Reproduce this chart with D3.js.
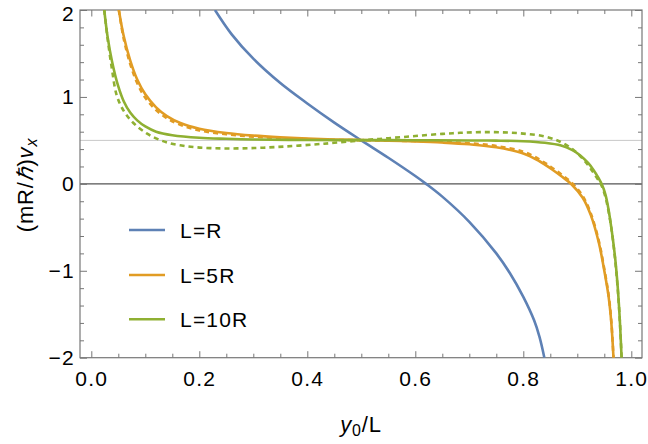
<!DOCTYPE html>
<html><head><meta charset="utf-8">
<script src="https://cdn.jsdelivr.net/npm/d3@7"></script>
<style>
body{margin:0;background:#fff}
svg text{font-family:"Liberation Sans",Arial,Helvetica,sans-serif}
</style></head><body>
<svg id="c" width="648" height="444"></svg>
<script>
// ---- data ----
const seriesNames = ["L=R", "L=5R", "L=10R"];
const seriesColors = ["#5E81B5", "#E19C24", "#8FB032"];

const blueX = [0.229, 0.26, 0.3, 0.35, 0.4, 0.45, 0.5, 0.55, 0.6, 0.62, 0.65, 0.7, 0.75, 0.775, 0.8, 0.82, 0.83, 0.839];
const blueY = [2.0, 1.72, 1.44, 1.16, 0.925, 0.705, 0.5, 0.30, 0.09, 0.0, -0.147, -0.437, -0.80, -1.025, -1.30, -1.57, -1.76, -2.0];

const orangeX = [0.051, 0.06, 0.072, 0.085, 0.1, 0.12, 0.14, 0.165, 0.2, 0.25, 0.3, 0.35, 0.4, 0.45, 0.5, 0.55, 0.6, 0.65, 0.7, 0.75, 0.8, 0.83, 0.85, 0.87, 0.89, 0.91, 0.925, 0.94, 0.95, 0.958, 0.963, 0.967];
const orangeY = [2.0, 1.7, 1.42, 1.2, 1.03, 0.88, 0.78, 0.70, 0.635, 0.585, 0.555, 0.535, 0.52, 0.51, 0.505, 0.497, 0.488, 0.475, 0.455, 0.42, 0.35, 0.26, 0.18, 0.09, -0.01, -0.16, -0.36, -0.68, -1.0, -1.3, -1.6, -2.0];
const orangeDotY = [2.0, 1.67, 1.38, 1.16, 0.99, 0.85, 0.755, 0.68, 0.615, 0.57, 0.543, 0.527, 0.514, 0.506, 0.502, 0.497, 0.492, 0.483, 0.467, 0.435, 0.37, 0.28, 0.2, 0.11, 0.01, -0.14, -0.34, -0.66, -0.98, -1.28, -1.58, -2.0];

const greenX = [0.024, 0.03, 0.038, 0.05, 0.06, 0.072, 0.085, 0.1, 0.12, 0.15, 0.2, 0.25, 0.3, 0.4, 0.5, 0.6, 0.7, 0.75, 0.8, 0.84, 0.87, 0.89, 0.905, 0.92, 0.93, 0.94, 0.945, 0.952, 0.958, 0.964, 0.97, 0.975, 0.979, 0.982];
const greenY = [2.0, 1.7, 1.42, 1.12, 0.95, 0.82, 0.73, 0.66, 0.6, 0.56, 0.53, 0.518, 0.51, 0.505, 0.503, 0.502, 0.499, 0.497, 0.49, 0.472, 0.44, 0.39, 0.33, 0.24, 0.16, 0.06, 0.0, -0.12, -0.3, -0.55, -0.85, -1.2, -1.6, -2.0];

const greenDotX = [0.024, 0.03, 0.038, 0.047, 0.06, 0.078, 0.1026, 0.125, 0.146, 0.17, 0.195, 0.225, 0.257, 0.29, 0.319, 0.36, 0.411, 0.45, 0.5, 0.55, 0.6, 0.65, 0.683, 0.72, 0.76, 0.8, 0.84, 0.87, 0.893, 0.91, 0.923, 0.935, 0.945, 0.952, 0.958, 0.964, 0.97, 0.975, 0.979, 0.982];
const greenDotY = [2.0, 1.68, 1.33, 1.02, 0.84, 0.70, 0.58, 0.51, 0.466, 0.438, 0.42, 0.41, 0.407, 0.41, 0.416, 0.43, 0.452, 0.472, 0.5, 0.525, 0.55, 0.575, 0.587, 0.595, 0.593, 0.578, 0.545, 0.48, 0.39, 0.29, 0.19, 0.08, -0.02, -0.15, -0.32, -0.55, -0.87, -1.22, -1.6, -2.0];

const xTicks = [0, 0.2, 0.4, 0.6, 0.8, 1.0];
const xTickLabels = ["0.0", "0.2", "0.4", "0.6", "0.8", "1.0"];
const yTicks = [-2, -1, 0, 1, 2];
const yTickLabels = ["\u22122", "\u22121", "0", "1", "2"];
const refLine = 0.5;

// ---- layout ----
const svg = d3.select("#c");
const L = 80, R = 642, T = 10, B = 357.7;
const x = d3.scaleLinear().domain([-0.02093, 1.01981]).range([L, R]);
const y = d3.scaleLinear().domain([-2, 2]).range([B, T]);

const xMinor = d3.range(0, 1.0001, 0.05).filter(v => !xTicks.some(t => Math.abs(t - v) < 1e-6));
const yMinor = d3.range(-2, 2.0001, 0.2).filter(v => !yTicks.some(t => Math.abs(t - v) < 1e-6));

svg.append("defs").append("clipPath").attr("id", "clip")
  .append("rect").attr("x", L).attr("y", T).attr("width", R - L).attr("height", B - T);

// reference lines
svg.append("line").attr("x1", L).attr("x2", R).attr("y1", y(refLine)).attr("y2", y(refLine))
  .attr("stroke", "#c8c8c8").attr("stroke-width", 1);
svg.append("line").attr("x1", L).attr("x2", R).attr("y1", y(0)).attr("y2", y(0))
  .attr("stroke", "#555").attr("stroke-width", 1.3);

// axes
const frameColor = "#777";
function styleAxis(g) {
  g.select(".domain").remove();
  g.selectAll("line").attr("stroke", frameColor).attr("stroke-width", 1);
  g.selectAll("text").attr("fill", "#000").style("font-size", "21px").style("letter-spacing", "1.3px");
}
svg.append("g").attr("transform", `translate(0,${B})`)
  .call(d3.axisBottom(x).tickValues(xTicks).tickFormat((d, i) => xTickLabels[i]).tickSize(-6.5).tickPadding(13)).call(styleAxis);
svg.append("g").attr("transform", `translate(0,${B})`)
  .call(d3.axisBottom(x).tickValues(xMinor).tickFormat("").tickSize(-4)).call(styleAxis);
svg.append("g").attr("transform", `translate(0,${T})`)
  .call(d3.axisTop(x).tickValues(xTicks).tickFormat("").tickSize(-6.5)).call(styleAxis);
svg.append("g").attr("transform", `translate(0,${T})`)
  .call(d3.axisTop(x).tickValues(xMinor).tickFormat("").tickSize(-4)).call(styleAxis);
const yAx = svg.append("g").attr("transform", `translate(${L},0)`)
  .call(d3.axisLeft(y).tickValues(yTicks).tickFormat((d, i) => yTickLabels[i]).tickSize(-7).tickPadding(5)).call(styleAxis);
yAx.selectAll(".tick").filter(d => d === 2).select("text").attr("y", 4);
svg.append("g").attr("transform", `translate(${L},0)`)
  .call(d3.axisLeft(y).tickValues(yMinor).tickFormat("").tickSize(-4)).call(styleAxis);
svg.append("g").attr("transform", `translate(${R},0)`)
  .call(d3.axisRight(y).tickValues(yTicks).tickFormat("").tickSize(-7)).call(styleAxis);
svg.append("g").attr("transform", `translate(${R},0)`)
  .call(d3.axisRight(y).tickValues(yMinor).tickFormat("").tickSize(-4)).call(styleAxis);

// frame
svg.append("rect").attr("x", L).attr("y", T).attr("width", R - L).attr("height", B - T)
  .attr("fill", "none").attr("stroke", frameColor).attr("stroke-width", 1.2);

// curves
const line = d3.line().x(d => x(d[0])).y(d => y(d[1])).curve(d3.curveCatmullRom.alpha(0.5));
const zip = (a, b) => a.map((v, i) => [v, b[i]]);
const plot = svg.append("g").attr("clip-path", "url(#clip)");
const curves = [
  { pts: zip(orangeX, orangeDotY), color: seriesColors[1], dash: "5,4" },
  { pts: zip(greenDotX, greenDotY), color: seriesColors[2], dash: "5,4" },
  { pts: zip(blueX, blueY), color: seriesColors[0], dash: null },
  { pts: zip(orangeX, orangeY), color: seriesColors[1], dash: null },
  { pts: zip(greenX, greenY), color: seriesColors[2], dash: null }
];
curves.forEach(c => {
  plot.append("path").attr("d", line(c.pts)).attr("fill", "none")
    .attr("stroke", c.color).attr("stroke-width", 2.6)
    .attr("stroke-dasharray", c.dash);
});

// legend
const legY = [230, 275, 319.3];
seriesNames.forEach((n, i) => {
  svg.append("line").attr("x1", 129).attr("x2", 165).attr("y1", legY[i]).attr("y2", legY[i])
    .attr("stroke", seriesColors[i]).attr("stroke-width", 2.6);
  svg.append("text").attr("x", 180).attr("y", legY[i] + 7.5).text(n)
    .style("font-size", "21px").style("letter-spacing", "1.2px");
});

// axis titles
const xt = svg.append("text").attr("x", 361).attr("y", 432).attr("text-anchor", "middle")
  .style("font-size", "22px").style("letter-spacing", "0.8px");
xt.append("tspan").text("y").style("font-style", "italic");
xt.append("tspan").text("0").attr("dy", 4).style("font-size", "16px");
xt.append("tspan").text("/L").attr("dy", -4);

const yt = svg.append("text").attr("transform", "translate(33,185) rotate(-90)")
  .attr("text-anchor", "middle").style("font-size", "22px").style("letter-spacing", "0.8px");
yt.append("tspan").text("(mR/");
yt.append("tspan").text("\u210F").style("font-style", "italic");
yt.append("tspan").text(")");
yt.append("tspan").text("v").style("font-style", "italic");
yt.append("tspan").text("x").attr("dy", 4).style("font-size", "16px").style("font-style", "italic");
</script>
</body></html>
